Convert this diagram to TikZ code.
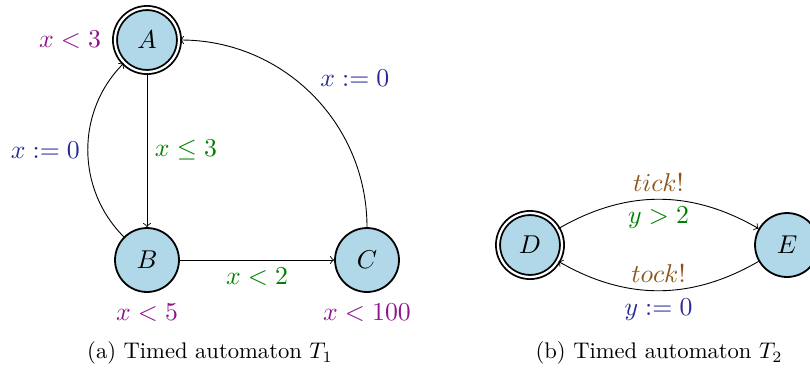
\RequirePackage{fix-cm}
\documentclass[tikz,border=0pt]{standalone}
\definecolor{invcol}{RGB}{140,20,140}
\definecolor{guardcol}{RGB}{0,128,0}
\definecolor{resetcol}{RGB}{40,40,150}
\definecolor{synccol}{RGB}{140,85,25}
\definecolor{statefill}{RGB}{176,216,232}
\newcommand{\lblsize}{\fontsize{11.4}{13}\selectfont}
\tikzset{
  stnode/.style={circle, draw=black, fill=statefill, line width=0.8pt, minimum size=28.3pt, inner sep=0pt, font=\lblsize},
  accnode/.style={stnode, double=white, double distance=1pt},
  inv/.style={text=invcol, font=\lblsize},
  guard/.style={text=guardcol, font=\lblsize},
  reset/.style={text=resetcol, font=\lblsize},
  sync/.style={text=synccol, font=\lblsize},
  trans/.style={->, line width=0.4pt},
  capt/.style={font=\fontsize{10}{12}\selectfont}
}
\begin{document}
\begin{tikzpicture}[x=0.4425pt, y=-0.4425pt]
\useasboundingbox (0,0) rectangle (810,373);
% automaton T1
\node[accnode] (A) at (147,40) {$A$};
\node[stnode] (B) at (147,260) {$B$};
\node[stnode] (C) at (367,260) {$C$};
\node[inv] (invA) at (70,40) {$x<3$};
\node[inv] (invB) at (147,313) {$x<5$};
\node[inv] (invC) at (367,313) {$x<100$};
\draw[trans] (A) -- node[guard, right] (gAB) {$x\leq 3$} (B);
\draw[trans] (B) to[bend left=45] node[reset, left] (rBA) {$x:=0$} (A);
\draw[trans] (C) to[out=90, in=0] node[reset, above right, pos=0.5] (rCA) {$x:=0$} (A);
\draw[trans] (B) -- node[guard, below] (gBC) {$x<2$} (C);
\node[capt] (captA) at (210,353) {(a) Timed automaton $T_1$};
% automaton T2
\node[accnode] (D) at (530,245) {$D$};
\node[stnode] (E) at (787,245) {$E$};
\draw[trans] (D) to[bend left=30]
  node[sync, above] (sDE) {$tick!$}
  node[guard, below] (gDE) {$y>2$} (E);
\draw[trans] (E) to[bend left=30]
  node[sync, above] (sED) {$tock!$}
  node[reset, below] (rED) {$y:=0$} (D);
\node[capt] (captB) at (659,353) {(b) Timed automaton $T_2$};
\end{tikzpicture}
\end{document}
